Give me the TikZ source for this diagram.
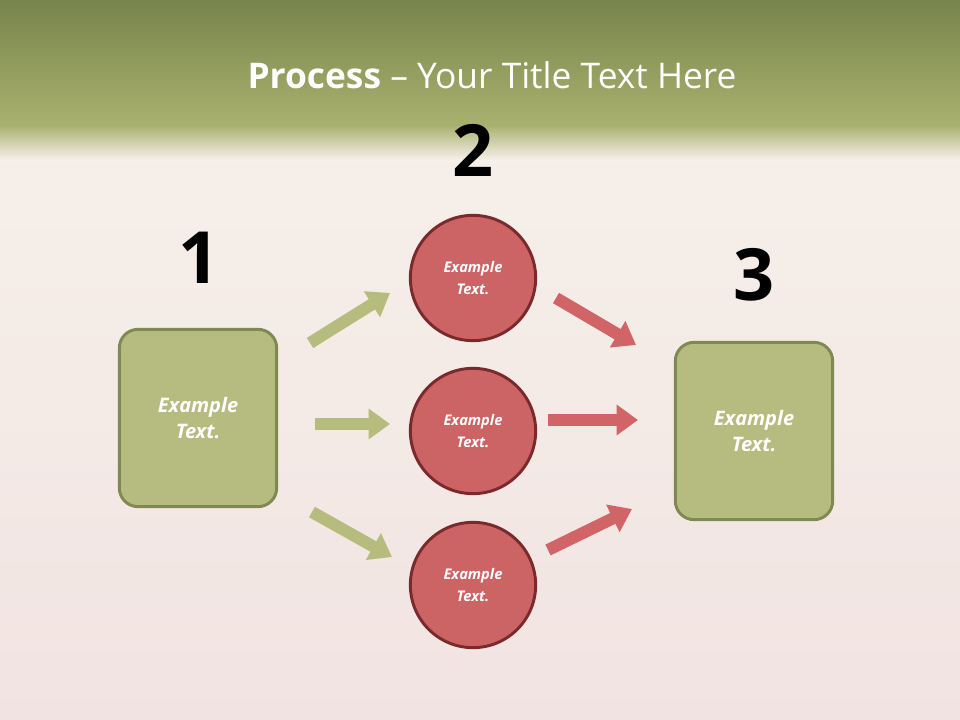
\documentclass[tikz,border=0pt]{standalone}
\usepackage{fontspec}
\setmainfont{Open Sans}
\usetikzlibrary{arrows.meta}
\definecolor{hdrA}{HTML}{77844B}
\definecolor{hdrB}{HTML}{A9B16F}
\definecolor{boxf}{HTML}{B6BC80}
\definecolor{boxd}{HTML}{7F8A52}
\definecolor{circf}{HTML}{CC6364}
\definecolor{circd}{HTML}{7A2A2C}
\definecolor{garr}{HTML}{B5BC7E}
\definecolor{rarr}{HTML}{D06466}
\definecolor{bgc}{HTML}{F1E3E1}
\definecolor{bgl}{HTML}{F6F0EA}
\tikzset{
 sq/.style={draw=boxd,line width=2.2pt,fill=boxf,rounded corners=14pt,minimum width=118pt,minimum height=133pt,text=white,font=\bfseries\itshape\fontsize{15}{20}\selectfont,align=center},
 circ/.style={circle,draw=circd,line width=2.2pt,fill=circf,minimum size=94pt,text=white,font=\bfseries\itshape\fontsize{11}{16}\selectfont,align=center},
 num/.style={font=\bfseries\fontsize{54}{60}\selectfont},
 garrow/.style={draw=garr,line width=9pt,-{Triangle[length=16pt,width=22pt]}},
 rarrow/.style={draw=rarr,line width=9pt,-{Triangle[length=16pt,width=22pt]}},
}
\begin{document}
\begin{tikzpicture}[x=0.75pt,y=-0.75pt]
\useasboundingbox (0,0) rectangle (960,720);
\shade[top color=bgl,bottom color=bgc] (0,130) rectangle (960,720);
\shade[top color=hdrA,bottom color=hdrB] (0,0) rectangle (960,125);
\shade[top color=hdrB,bottom color=bgl] (0,125) rectangle (960,160);
\node[text=white,font=\fontsize{26.5}{30}\selectfont] (title) at (492,75) {\textbf{Process} -- Your Title Text Here};
\node[sq] (b1) at (198,418) {Example\\Text.};
\node[sq] (b3) at (754,431) {Example\\Text.};
\node[circ] (c1) at (473,278) {Example\\Text.};
\node[circ] (c2) at (473,431) {Example\\Text.};
\node[circ] (c3) at (473,585) {Example\\Text.};
\node[num] (n1) at (199,258) {1};
\node[num] (n2) at (473,150) {2};
\node[num] (n3) at (754,275) {3};
\coordinate (g1s) at (310,343); \coordinate (g1e) at (390,293);
\coordinate (g2s) at (315,424); \coordinate (g2e) at (390,424);
\coordinate (g3s) at (312,512); \coordinate (g3e) at (392,557);
\coordinate (r1s) at (556,298); \coordinate (r1e) at (636,345);
\coordinate (r2s) at (548,420); \coordinate (r2e) at (638,420);
\coordinate (r3s) at (548,550); \coordinate (r3e) at (632,509);
\draw[garrow] (g1s) -- (g1e);
\draw[garrow] (g2s) -- (g2e);
\draw[garrow] (g3s) -- (g3e);
\draw[rarrow] (r1s) -- (r1e);
\draw[rarrow] (r2s) -- (r2e);
\draw[rarrow] (r3s) -- (r3e);
\end{tikzpicture}
\end{document}
